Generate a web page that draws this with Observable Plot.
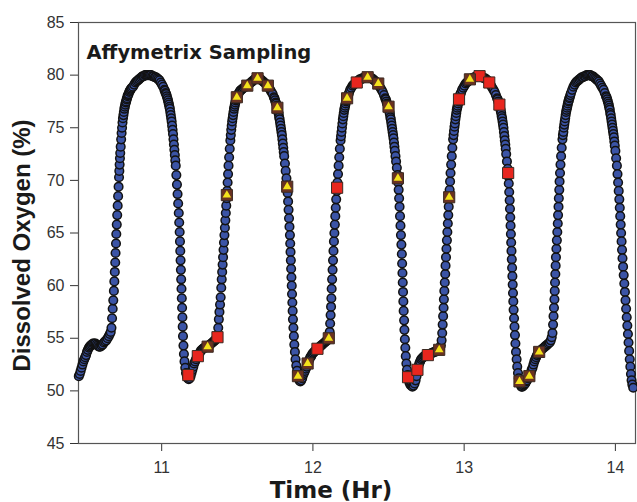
<!DOCTYPE html>
<html>
<head>
<meta charset="utf-8">
<script src="https://cdn.jsdelivr.net/npm/d3@7"></script>
<script src="https://cdn.jsdelivr.net/npm/@observablehq/plot@0.6"></script>
<style>
  html, body { margin: 0; padding: 0; background: #fff; }
</style>
</head>
<body>
<div id="chart"></div>
<script>
// Dissolved oxygen time series (Time in hours, DO in %)
const oxygenSeries = [
[10.452,51.4],[10.458,51.6],[10.464,51.9],[10.470,52.2],[10.476,52.5],[10.482,52.8],[10.488,53.0],[10.494,53.2],[10.500,53.4],[10.506,53.7],[10.512,53.9],[10.518,54.1],[10.524,54.2],[10.530,54.3],[10.538,54.4],[10.546,54.5],[10.554,54.5],[10.562,54.5],[10.570,54.4],[10.578,54.3],[10.586,54.2],[10.594,54.2],[10.602,54.3],[10.610,54.4],[10.618,54.6],[10.626,54.7],[10.634,54.8],[10.642,55.0],[10.650,55.2],[10.657,55.4],[10.663,55.6],
[10.668,56.0],[10.672,56.9],[10.676,57.8],[10.680,58.6],[10.684,59.5],[10.687,60.4],[10.690,61.3],[10.693,62.2],[10.695,63.1],[10.698,64.0],[10.700,64.9],[10.703,65.8],[10.706,66.7],[10.709,67.6],[10.712,68.5],[10.715,69.4],[10.718,70.3],[10.720,70.9],[10.722,71.5],[10.724,72.1],[10.726,72.6],[10.729,73.2],[10.732,73.9],[10.735,74.5],[10.738,75.0],[10.741,75.5],[10.744,75.9],[10.747,76.2],[10.750,76.5],[10.753,76.8],[10.756,77.0],[10.759,77.2],[10.762,77.4],[10.765,77.5],[10.768,77.7],[10.771,77.8],[10.774,78.0],[10.777,78.1],[10.781,78.2],[10.785,78.4],[10.789,78.5],[10.793,78.6],[10.797,78.7],[10.802,78.8],[10.810,78.9],[10.818,79.1],[10.826,79.3],[10.834,79.4],[10.842,79.5],[10.850,79.6],[10.858,79.7],[10.866,79.8],[10.874,79.9],[10.882,79.9],[10.890,80.0],[10.898,80.0],[10.906,80.0],[10.914,80.0],[10.922,80.0],[10.930,80.0],[10.938,79.9],[10.946,79.9],[10.954,79.8],[10.962,79.8],[10.970,79.7],[10.978,79.6],[10.986,79.5],[10.994,79.3],[11.002,79.1],[11.010,78.9],[11.018,78.6],[11.022,78.5],[11.026,78.3],[11.030,78.2],[11.034,78.0],[11.038,77.8],[11.042,77.6],[11.045,77.4],[11.048,77.2],[11.051,77.0],[11.054,76.8],[11.057,76.5],[11.060,76.2],[11.063,75.9],[11.066,75.6],[11.069,75.2],[11.072,74.8],[11.075,74.4],[11.078,73.9],[11.081,73.4],[11.084,72.9],[11.087,72.4],[11.090,71.9],[11.093,71.4],[11.097,70.5],[11.101,69.6],[11.105,68.7],[11.109,67.8],[11.113,66.9],[11.116,66.0],[11.119,65.1],[11.121,64.2],[11.123,63.3],[11.125,62.4],[11.127,61.5],[11.129,60.6],[11.131,59.7],[11.133,58.8],[11.135,57.9],[11.137,57.0],[11.139,56.1],[11.141,55.2],[11.144,54.3],[11.147,53.5],[11.151,52.8],[11.156,52.2],[11.161,51.7],[11.167,51.4],[11.173,51.2],[11.179,51.1],
[11.185,51.2],[11.191,51.4],[11.197,51.7],[11.203,52.0],[11.209,52.3],[11.215,52.6],[11.221,52.8],[11.227,53.0],[11.233,53.2],[11.239,53.3],[11.245,53.5],[11.251,53.6],[11.258,53.8],[11.265,53.9],[11.272,54.0],[11.280,54.1],[11.288,54.1],[11.296,54.2],[11.304,54.2],[11.312,54.3],[11.320,54.4],[11.328,54.5],[11.336,54.6],[11.344,54.7],[11.352,54.8],[11.359,54.9],[11.365,55.0],[11.370,55.3],
[11.374,56.0],[11.378,56.8],[11.382,57.5],[11.386,58.2],[11.390,58.9],[11.394,59.8],[11.397,60.6],[11.400,61.3],[11.403,62.0],[11.406,62.7],[11.409,63.4],[11.412,64.1],[11.415,64.8],[11.418,65.5],[11.421,66.2],[11.424,66.9],[11.427,67.6],[11.430,68.3],[11.433,69.0],[11.436,69.8],[11.439,70.6],[11.442,71.4],[11.446,72.2],[11.450,73.0],[11.454,73.8],[11.457,74.3],[11.460,74.8],[11.463,75.2],[11.466,75.6],[11.469,75.9],[11.472,76.2],[11.475,76.5],[11.478,76.8],[11.481,77.0],[11.484,77.2],[11.487,77.4],[11.490,77.6],[11.493,77.7],[11.496,77.9],[11.499,78.0],[11.502,78.1],[11.506,78.2],
[11.510,78.3],[11.518,78.5],[11.526,78.6],[11.534,78.7],[11.542,78.8],[11.550,78.9],[11.558,78.9],[11.566,79.0],[11.574,79.1],[11.582,79.2],[11.590,79.3],[11.598,79.4],[11.606,79.5],[11.614,79.6],[11.622,79.7],[11.630,79.7],[11.638,79.7],[11.646,79.7],[11.654,79.6],[11.662,79.5],[11.670,79.4],[11.678,79.3],[11.686,79.2],[11.694,79.1],[11.702,79.0],[11.710,78.8],[11.718,78.6],[11.726,78.4],[11.734,78.2],[11.742,77.9],[11.746,77.8],[11.750,77.6],[11.754,77.4],[11.758,77.3],[11.762,77.1],[11.765,76.9],[11.768,76.7],[11.771,76.5],[11.774,76.3],[11.777,76.0],[11.780,75.8],[11.783,75.5],[11.786,75.2],[11.789,74.9],[11.792,74.6],[11.795,74.3],[11.798,73.9],[11.801,73.5],[11.804,73.1],[11.807,72.7],[11.810,72.3],[11.815,71.6],[11.820,70.9],[11.825,70.2],[11.829,69.5],[11.833,68.8],[11.836,68.0],[11.839,67.2],[11.842,66.4],[11.845,65.6],[11.848,64.8],[11.850,64.0],[11.852,63.2],[11.854,62.4],[11.856,61.6],[11.858,60.8],[11.860,60.0],[11.862,59.2],[11.864,58.4],[11.866,57.6],[11.868,56.8],[11.871,56.0],[11.874,55.2],[11.877,54.4],[11.881,53.7],[11.885,53.0],[11.890,52.4],[11.895,51.9],[11.900,51.5],[11.905,51.2],[11.911,51.0],[11.917,50.9],
[11.923,51.0],[11.929,51.2],[11.935,51.5],[11.941,51.7],[11.947,51.9],[11.953,52.1],[11.959,52.3],[11.965,52.6],[11.971,52.8],[11.977,53.0],[11.983,53.2],[11.989,53.3],[11.995,53.5],[12.001,53.6],[12.008,53.7],[12.015,53.8],[12.022,53.9],[12.030,54.0],[12.038,54.1],[12.046,54.2],[12.054,54.3],[12.062,54.4],[12.070,54.5],[12.078,54.6],[12.086,54.7],[12.094,54.8],[12.101,54.9],[12.107,55.1],[12.111,55.6],
[12.114,56.4],[12.117,57.2],[12.120,58.0],[12.122,58.8],[12.124,59.7],[12.127,60.6],[12.130,61.5],[12.133,62.4],[12.136,63.3],[12.139,64.2],[12.142,65.0],[12.145,65.8],[12.148,66.6],[12.151,67.4],[12.154,68.2],[12.158,69.0],[12.162,69.8],[12.166,70.6],[12.170,71.4],[12.174,72.2],[12.178,73.0],[12.183,73.8],[12.186,74.2],[12.189,74.6],[12.192,75.0],[12.195,75.4],[12.198,75.8],[12.201,76.1],[12.204,76.4],[12.207,76.7],[12.210,76.9],[12.213,77.1],[12.216,77.3],[12.219,77.5],[12.222,77.6],[12.225,77.8],[12.228,77.9],[12.231,78.0],[12.234,78.1],[12.238,78.3],[12.246,78.6],[12.254,78.8],[12.262,79.0],[12.270,79.1],[12.278,79.2],[12.286,79.3],[12.294,79.4],[12.302,79.5],[12.310,79.6],[12.318,79.6],[12.326,79.7],[12.334,79.7],[12.342,79.8],[12.350,79.8],[12.358,79.8],[12.366,79.8],[12.374,79.8],[12.382,79.7],[12.390,79.7],[12.398,79.6],[12.406,79.5],[12.414,79.4],[12.422,79.3],[12.430,79.2],[12.438,79.0],[12.446,78.8],[12.454,78.6],[12.462,78.4],[12.470,78.1],[12.478,77.8],[12.482,77.7],[12.486,77.5],[12.490,77.3],[12.494,77.2],[12.497,77.0],[12.500,76.9],[12.503,76.7],[12.506,76.5],[12.509,76.3],[12.512,76.0],[12.515,75.8],[12.518,75.5],[12.521,75.2],[12.524,74.9],[12.527,74.6],[12.530,74.3],[12.533,74.0],[12.536,73.6],[12.539,73.2],[12.542,72.8],[12.546,72.3],[12.550,71.8],[12.555,71.2],[12.560,70.5],[12.564,69.8],[12.567,69.1],[12.570,68.3],[12.573,67.5],[12.576,66.6],[12.579,65.7],[12.582,64.8],[12.585,63.9],[12.588,63.0],[12.590,62.1],[12.592,61.2],[12.594,60.3],[12.596,59.4],[12.598,58.5],[12.600,57.6],[12.603,56.7],[12.605,55.8],[12.608,54.9],[12.611,54.1],[12.614,53.3],[12.618,52.6],[12.622,52.0],[12.627,51.5],[12.632,51.1],[12.638,50.8],[12.644,50.6],[12.651,50.5],[12.658,50.4],[12.665,50.5],[12.672,50.7],
[12.679,51.0],[12.685,51.4],[12.691,51.9],[12.697,52.3],[12.703,52.6],[12.709,52.8],[12.715,53.0],[12.722,53.1],[12.729,53.2],[12.736,53.3],[12.744,53.3],[12.752,53.4],[12.760,53.4],[12.768,53.5],[12.776,53.5],[12.784,53.6],[12.792,53.6],[12.800,53.7],[12.808,53.7],[12.816,53.8],[12.824,53.8],[12.832,53.9],[12.840,54.0],[12.846,54.3],[12.851,54.8],[12.855,55.5],
[12.858,56.3],[12.861,57.1],[12.864,57.9],[12.866,58.7],[12.869,59.5],[12.872,60.3],[12.875,61.1],[12.877,61.9],[12.880,62.7],[12.883,63.5],[12.886,64.3],[12.889,65.1],[12.892,65.9],[12.895,66.7],[12.898,67.5],[12.901,68.3],[12.904,69.1],[12.907,69.9],[12.910,70.7],[12.914,71.5],[12.918,72.3],[12.922,73.1],[12.927,73.9],[12.930,74.3],[12.933,74.7],[12.936,75.1],[12.939,75.4],[12.942,75.8],[12.945,76.1],[12.948,76.4],[12.951,76.7],[12.954,76.9],[12.957,77.1],[12.960,77.3],[12.963,77.5],[12.966,77.7],[12.969,77.9],[12.972,78.0],[12.975,78.2],[12.978,78.3],[12.986,78.6],[12.994,78.8],[13.002,79.0],[13.010,79.2],[13.018,79.3],[13.026,79.4],[13.034,79.5],[13.042,79.6],[13.050,79.7],[13.058,79.7],[13.066,79.8],[13.074,79.8],[13.082,79.9],[13.090,79.9],[13.098,79.9],[13.106,79.9],[13.114,79.8],[13.122,79.8],[13.130,79.7],[13.138,79.7],[13.146,79.6],[13.154,79.5],[13.162,79.4],[13.170,79.2],[13.178,79.0],[13.186,78.8],[13.194,78.6],[13.202,78.4],[13.210,78.1],[13.218,77.8],[13.222,77.7],[13.226,77.5],[13.230,77.3],[13.233,77.2],[13.236,77.0],[13.239,76.8],[13.242,76.6],[13.245,76.4],[13.248,76.1],[13.251,75.9],[13.254,75.6],[13.257,75.3],[13.260,75.0],[13.263,74.6],[13.266,74.2],[13.269,73.8],[13.272,73.4],[13.275,73.0],
[13.278,72.5],[13.283,71.8],[13.288,71.1],[13.292,70.4],[13.295,69.7],[13.298,68.9],[13.301,68.1],[13.303,67.3],[13.305,66.5],[13.307,65.7],[13.309,64.9],[13.311,64.1],[13.313,63.3],[13.315,62.5],[13.317,61.7],[13.319,60.9],[13.321,60.1],[13.323,59.3],[13.325,58.5],[13.327,57.7],[13.330,56.9],[13.333,56.1],[13.336,55.3],[13.339,54.5],[13.343,53.7],[13.347,53.0],[13.351,52.3],[13.356,51.7],[13.361,51.2],[13.367,50.8],[13.373,50.6],[13.379,50.4],[13.385,50.4],[13.391,50.5],
[13.398,50.6],[13.404,50.7],[13.410,50.9],[13.416,51.0],[13.422,51.2],[13.428,51.3],[13.434,51.5],[13.440,51.7],[13.446,52.0],[13.452,52.2],[13.458,52.5],[13.464,52.8],[13.470,53.0],[13.476,53.2],[13.482,53.4],[13.489,53.5],[13.496,53.7],[13.503,53.8],[13.510,53.9],[13.518,54.0],[13.526,54.1],[13.534,54.2],[13.542,54.3],[13.550,54.4],[13.558,54.5],[13.566,54.6],[13.573,54.8],[13.579,55.1],[13.584,55.5],
[13.588,56.3],[13.591,57.1],[13.594,57.9],[13.597,58.7],[13.599,59.5],[13.601,60.3],[13.603,61.1],[13.605,61.9],[13.607,62.7],[13.610,63.5],[13.613,64.3],[13.616,65.1],[13.619,65.9],[13.621,66.7],[13.624,67.5],[13.626,68.3],[13.629,69.1],[13.631,69.9],[13.634,70.7],[13.637,71.5],[13.641,72.3],[13.645,73.1],[13.650,73.9],[13.653,74.3],[13.656,74.6],[13.659,75.0],[13.662,75.3],[13.665,75.6],[13.668,75.9],[13.671,76.2],[13.674,76.5],[13.677,76.7],[13.680,76.9],[13.683,77.1],[13.686,77.3],[13.689,77.5],[13.692,77.6],[13.695,77.8],[13.698,77.9],[13.702,78.1],[13.706,78.3],[13.714,78.6],[13.722,78.9],[13.730,79.1],[13.738,79.3],[13.746,79.4],[13.754,79.5],[13.762,79.6],[13.770,79.7],[13.778,79.8],[13.786,79.8],[13.794,79.9],[13.802,79.9],[13.810,80.0],[13.818,80.0],[13.826,80.0],[13.834,80.0],[13.842,79.9],[13.850,79.9],[13.858,79.8],[13.866,79.7],[13.874,79.6],[13.882,79.5],[13.890,79.4],[13.898,79.2],[13.906,79.0],[13.914,78.8],[13.922,78.6],[13.930,78.3],[13.938,78.0],[13.942,77.9],[13.946,77.7],[13.950,77.5],[13.954,77.3],[13.957,77.1],[13.960,76.9],[13.963,76.7],[13.966,76.4],[13.969,76.2],[13.972,75.9],[13.975,75.6],[13.978,75.3],[13.981,75.0],[13.984,74.7],[13.987,74.4],[13.990,74.1],[13.993,73.7],[13.996,73.3],
[14.000,72.8],[14.005,72.1],[14.010,71.4],[14.014,70.6],[14.018,69.8],[14.022,69.0],[14.026,68.2],[14.029,67.4],[14.032,66.6],[14.035,65.8],[14.038,65.0],[14.041,64.2],[14.044,63.4],[14.047,62.6],[14.051,61.8],[14.055,61.0],[14.059,60.2],[14.063,59.4],[14.067,58.6],[14.071,57.8],[14.075,57.0],[14.079,56.2],[14.083,55.4],[14.087,54.6],[14.091,53.8],[14.095,53.0],[14.099,52.3],[14.103,51.6],[14.107,51.0],[14.112,50.6],[14.118,50.3]
];

// Affymetrix sampling points, two sample sets
const redSamples = [
[11.176,51.5],[11.239,53.3],[11.369,55.1],[12.030,54.0],[12.160,69.3],[12.290,79.3],[12.629,51.3],[12.691,52.0],[12.760,53.4],[12.966,77.7],[13.102,79.9],[13.166,79.3],[13.233,77.2],[13.291,70.7]
];
const yellowSamples = [
[11.304,54.2],[11.431,68.6],[11.497,77.9],[11.566,79.0],[11.634,79.7],[11.702,79.0],[11.765,76.9],[11.830,69.4],[11.901,51.4],[11.965,52.6],[12.105,55.0],[12.226,77.8],[12.362,79.8],[12.432,79.2],[12.500,77.0],[12.562,70.2],[12.835,53.9],[12.901,68.4],[13.038,79.6],[13.366,50.9],[13.431,51.4],[13.496,53.7]
];

const xTicks = [11, 12, 13, 14];
const yTicks = [45, 50, 55, 60, 65, 70, 75, 80, 85];
const titleText = "Affymetrix Sampling";
const xLabel = "Time (Hr)";
const yLabel = "Dissolved Oxygen (%)";

const chart = Plot.plot({
  width: 637,
  height: 502,
  marginLeft: 78,
  marginRight: 2,
  marginTop: 22,
  marginBottom: 59,
  style: {fontFamily: "'Liberation Sans', Arial, sans-serif", fontSize: "16px", color: "#333", background: "#fff"},
  x: {domain: [10.45, 14.133], ticks: xTicks, tickSize: 8, tickPadding: 10, label: null, tickFormat: d => String(d)},
  y: {domain: [45, 85], ticks: yTicks, tickSize: 8, tickPadding: 6, label: null, tickFormat: d => String(d)},
  marks: [
    Plot.frame({stroke: "#555", strokeWidth: 1.2}),
    Plot.dot(oxygenSeries, {x: d => d[0], y: d => d[1], r: 4.3, fill: "#3b54a6", stroke: "#121212", strokeWidth: 1.5}),
    Plot.dot(redSamples, {x: d => d[0], y: d => d[1], symbol: "square", r: 6.3, fill: "#e8261e", stroke: "#3b2a22", strokeWidth: 1}),
    Plot.dot(yellowSamples, {x: d => d[0], y: d => d[1], symbol: "square", r: 6.3, fill: "#6a3221", stroke: "#3b2a22", strokeWidth: 1}),
    Plot.dot(yellowSamples, {x: d => d[0], y: d => d[1], symbol: "triangle", r: 3.2, fill: "#f4e21c", stroke: "none"}),
    Plot.text([titleText], {frameAnchor: "top-left", dx: 8, dy: 36, textAnchor: "start", lineAnchor: "bottom", fontFamily: "'DejaVu Sans', sans-serif", fontSize: 19.5, fontWeight: "bold", fill: "#1a1a1a"}),
    Plot.text([xLabel], {frameAnchor: "bottom", dx: -26, dy: 54, textAnchor: "middle", lineAnchor: "bottom", fontFamily: "'DejaVu Sans', sans-serif", fontSize: 23, fontWeight: "bold", fill: "#1a1a1a"}),
    Plot.text([yLabel], {frameAnchor: "left", dx: -56, dy: 12.5, rotate: -90, textAnchor: "middle", lineAnchor: "middle", fontSize: 24, fontWeight: "bold", fill: "#1a1a1a"})
  ]
});
document.getElementById("chart").appendChild(chart);
</script>
</body>
</html>
